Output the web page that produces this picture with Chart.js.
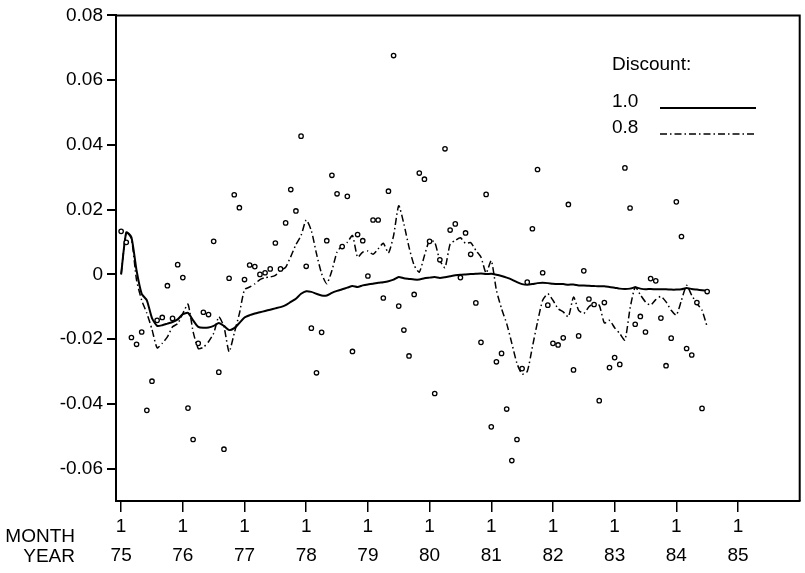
<!DOCTYPE html>
<html>
<head>
<meta charset="utf-8">
<script src="https://cdn.jsdelivr.net/npm/chart.js@4.4.1/dist/chart.umd.min.js"></script>
<style>
  html, body { margin: 0; padding: 0; background: #fff; }
  #wrap { width: 805px; height: 573px; }
</style>
</head>
<body>
<div id="wrap"><canvas id="chart" width="805" height="573"></canvas></div>
<script>
// monthly observations, Jan 75 .. Jul 84
const returns = [
  0.0133, 0.0099, -0.0195, -0.0216, -0.0178, -0.0420, -0.0330, -0.0142, -0.0133, -0.0035, -0.0136, 0.0030,
  -0.0010, -0.0413, -0.0510, -0.0213, -0.0117, -0.0124, 0.0102, -0.0302, -0.0540, -0.0012, 0.0246, 0.0206,
  -0.0016, 0.0029, 0.0024, 0.0000, 0.0005, 0.0017, 0.0097, 0.0017, 0.0159, 0.0262, 0.0196, 0.0427,
  0.0025, -0.0166, -0.0304, -0.0179, 0.0104, 0.0306, 0.0249, 0.0086, 0.0241, -0.0238, 0.0123, 0.0104,
  -0.0005, 0.0168, 0.0168, -0.0073, 0.0257, 0.0676, -0.0098, -0.0172, -0.0252, -0.0062, 0.0313, 0.0294,
  0.0102, -0.0368, 0.0045, 0.0388, 0.0137, 0.0156, -0.0010, 0.0128, 0.0062, -0.0088, -0.0210, 0.0247,
  -0.0471, -0.0270, -0.0244, -0.0416, -0.0575, -0.0510, -0.0291, -0.0024, 0.0141, 0.0324, 0.0005, -0.0095,
  -0.0213, -0.0218, -0.0196, 0.0216, -0.0295, -0.0190, 0.0011, -0.0076, -0.0093, -0.0390, -0.0087, -0.0288,
  -0.0257, -0.0278, 0.0329, 0.0205, -0.0154, -0.0130, -0.0178, -0.0013, -0.0020, -0.0135, -0.0282, -0.0197,
  0.0224, 0.0117, -0.0229, -0.0249, -0.0087, -0.0414, -0.0053
];

const discount10 = [
  0.0000, 0.0130, 0.0115, 0.0012, -0.0060, -0.0080, -0.0135, -0.0159, -0.0157, -0.0152, -0.0147, -0.0139,
  -0.0123, -0.0119, -0.0142, -0.0162, -0.0165, -0.0164, -0.0159, -0.0150, -0.0159, -0.0172, -0.0166, -0.0150,
  -0.0133, -0.0126, -0.0121, -0.0117, -0.0113, -0.0109, -0.0105, -0.0101, -0.0095, -0.0085, -0.0075, -0.0060,
  -0.0052, -0.0054, -0.0060, -0.0065, -0.0065, -0.0057, -0.0051, -0.0046, -0.0041, -0.0036, -0.0039, -0.0034,
  -0.0031, -0.0029, -0.0026, -0.0024, -0.0021, -0.0016, -0.0008, -0.0012, -0.0014, -0.0016, -0.0016, -0.0012,
  -0.0010, -0.0008, -0.0011, -0.0009, -0.0006, -0.0003, -0.0001, 0.0000, 0.0001, 0.0002, 0.0003, 0.0001,
  0.0002, -0.0001, -0.0005, -0.0010, -0.0016, -0.0024, -0.0030, -0.0032, -0.0030, -0.0027, -0.0026, -0.0027,
  -0.0029, -0.0030, -0.0030, -0.0032, -0.0031, -0.0034, -0.0034, -0.0035, -0.0036, -0.0037, -0.0037, -0.0039,
  -0.0041, -0.0044, -0.0045, -0.0044, -0.0040, -0.0044, -0.0046, -0.0045, -0.0046, -0.0046, -0.0046, -0.0047,
  -0.0047, -0.0046, -0.0042, -0.0045, -0.0047, -0.0049, -0.0051
];

const discount08 = [
  0.0000, 0.0130, 0.0110, -0.0018, -0.0080, -0.0120, -0.0170, -0.0227, -0.0213, -0.0193, -0.0162, -0.0152,
  -0.0121, -0.0092, -0.0177, -0.0229, -0.0225, -0.0208, -0.0182, -0.0131, -0.0162, -0.0239, -0.0182, -0.0121,
  -0.0047, -0.0039, -0.0029, -0.0016, -0.0010, -0.0008, -0.0003, 0.0012, 0.0022, 0.0055, 0.0092, 0.0120,
  0.0168, 0.0135, 0.0064, 0.0002, -0.0029, 0.0012, 0.0069, 0.0089, 0.0099, 0.0120, 0.0053, 0.0069,
  0.0072, 0.0062, 0.0079, 0.0096, 0.0066, 0.0120, 0.0212, 0.0156, 0.0084, 0.0028, 0.0007, 0.0058,
  0.0105, 0.0099, 0.0043, 0.0021, 0.0094, 0.0105, 0.0113, 0.0096, 0.0098, 0.0074, 0.0053, 0.0004,
  0.0043, -0.0049, -0.0106, -0.0152, -0.0213, -0.0275, -0.0308, -0.0300, -0.0224, -0.0147, -0.0080, -0.0060,
  -0.0080, -0.0106, -0.0116, -0.0131, -0.0070, -0.0111, -0.0121, -0.0100, -0.0090, -0.0095, -0.0150, -0.0142,
  -0.0165, -0.0183, -0.0203, -0.0105, -0.0039, -0.0063, -0.0085, -0.0095, -0.0078, -0.0068, -0.0085, -0.0111,
  -0.0126, -0.0080, -0.0034, -0.0065, -0.0090, -0.0111, -0.0162
];

const yearLabels = ["75", "76", "77", "78", "79", "80", "81", "82", "83", "84", "85"];
const monthLabel = "1";
const yTicks = [-0.06, -0.04, -0.02, 0, 0.02, 0.04, 0.06, 0.08];
const legendTitle = "Discount:";
const legendNames = ["1.0", "0.8"];

const FONT = "'Liberation Sans', Arial, Helvetica, sans-serif";
const FONT_SIZE = 19;
const DASH_DOT = [7, 3, 1.5, 3];

const toPoints = (arr) => arr.map((v, i) => ({ x: i, y: v }));

const extras = {
  id: "extras",
  afterDraw(chart) {
    const { ctx, chartArea } = chart;
    ctx.save();
    ctx.strokeStyle = "#000";
    ctx.lineWidth = 2;
    ctx.beginPath();
    ctx.moveTo(chartArea.left, chartArea.top);
    ctx.lineTo(chartArea.right, chartArea.top);
    ctx.lineTo(chartArea.right, chartArea.bottom);
    ctx.stroke();

    ctx.fillStyle = "#000";
    ctx.font = `${FONT_SIZE}px ${FONT}`;
    ctx.textBaseline = "middle";

    // axis captions
    ctx.textAlign = "right";
    ctx.fillText("MONTH", 75, 537);
    ctx.fillText("YEAR", 75, 557);

    // legend
    ctx.textAlign = "left";
    ctx.fillText(legendTitle, 612, 65);
    ctx.fillText(legendNames[0], 612, 102);
    ctx.fillText(legendNames[1], 612, 128);

    ctx.lineWidth = 2;
    ctx.beginPath();
    ctx.moveTo(660, 108);
    ctx.lineTo(756, 108);
    ctx.stroke();

    ctx.lineWidth = 1.5;
    ctx.setLineDash(DASH_DOT);
    ctx.beginPath();
    ctx.moveTo(660, 134);
    ctx.lineTo(756, 134);
    ctx.stroke();
    ctx.restore();
  }
};

new Chart(document.getElementById("chart"), {
  type: "scatter",
  data: {
    datasets: [
      {
        label: "obs",
        data: toPoints(returns),
        pointStyle: "circle",
        pointRadius: 2.2,
        pointBorderWidth: 1.3,
        pointBorderColor: "#000",
        pointBackgroundColor: "#fff",
        showLine: false
      },
      {
        label: legendNames[0],
        data: toPoints(discount10),
        showLine: true,
        borderColor: "#000",
        borderWidth: 2,
        pointRadius: 0,
        tension: 0.2
      },
      {
        label: legendNames[1],
        data: toPoints(discount08),
        showLine: true,
        borderColor: "#000",
        borderWidth: 1.5,
        borderDash: DASH_DOT,
        pointRadius: 0,
        tension: 0.2
      }
    ]
  },
  options: {
    responsive: false,
    animation: false,
    devicePixelRatio: 1,
    layout: { padding: { top: 14, right: 4, left: 0, bottom: 0 } },
    plugins: {
      legend: { display: false },
      tooltip: { enabled: false }
    },
    scales: {
      x: {
        type: "linear",
        min: -1,
        max: 132,
        afterBuildTicks: (scale) => {
          scale.ticks = yearLabels.map((_, i) => ({ value: i * 12 }));
        },
        afterFit: (scale) => { scale.height = 72; },
        ticks: {
          autoSkip: false,
          maxRotation: 0,
          padding: 0,
          color: "#000",
          font: { family: FONT, size: FONT_SIZE, lineHeight: 29 / FONT_SIZE },
          callback: (value, index) => [monthLabel, yearLabels[index]]
        },
        grid: { drawOnChartArea: false, drawTicks: true, tickLength: 11, color: "#000", lineWidth: 1.5 },
        border: { display: true, color: "#000", width: 2 }
      },
      y: {
        min: -0.07,
        max: 0.08,
        afterBuildTicks: (scale) => {
          scale.ticks = yTicks.map((v) => ({ value: v }));
        },
        afterFit: (scale) => { scale.width = 116; },
        ticks: {
          padding: 4,
          color: "#000",
          font: { family: FONT, size: FONT_SIZE },
          callback: (value) => (value === 0 ? "0" : value.toFixed(2))
        },
        grid: { drawOnChartArea: false, drawTicks: true, tickLength: 9, color: "#000", lineWidth: 2 },
        border: { display: true, color: "#000", width: 2 }
      }
    }
  },
  plugins: [extras]
});
</script>
</body>
</html>
